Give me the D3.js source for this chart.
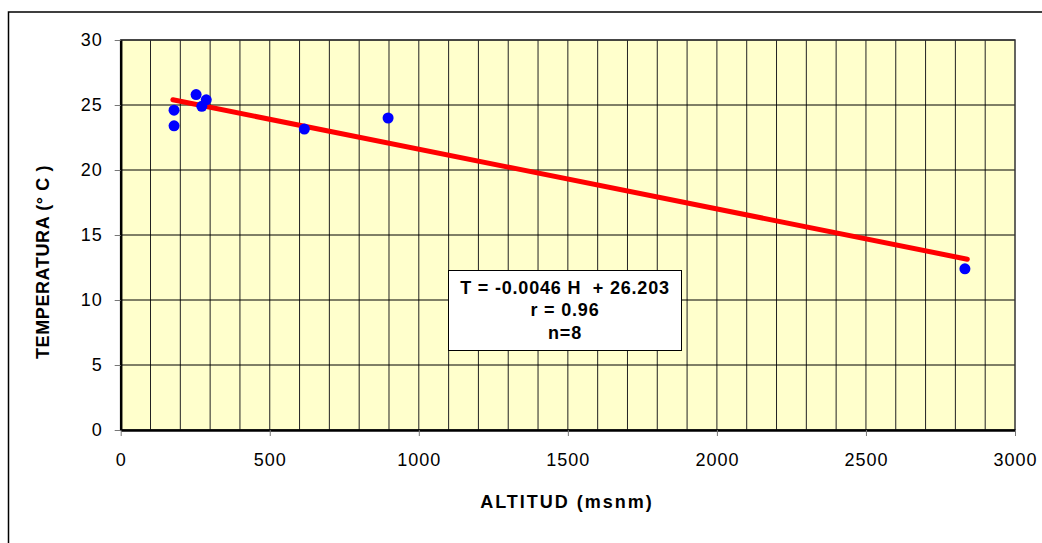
<!DOCTYPE html>
<html>
<head>
<meta charset="utf-8">
<script src="https://cdn.jsdelivr.net/npm/d3@7"></script>
<style>
  body { margin: 0; background: #fff; }
  svg { display: block; font-family: "Liberation Sans", Arial, sans-serif; }
</style>
</head>
<body>
<svg id="chart" width="1042" height="543"></svg>
<script>
// data
const altitud = [179, 179, 253, 272, 287, 616, 897, 2832]
const temperatura = [24.6, 23.4, 25.8, 24.9, 25.4, 23.15, 24.0, 12.4]
const xTicks = [0, 500, 1000, 1500, 2000, 2500, 3000]
const yTicks = [0, 5, 10, 15, 20, 25, 30]
const slope = -0.0046
const intercept = 26.203
const boxLines = ['T = -0.0046 H  + 26.203', 'r = 0.96', 'n=8']

const svg = d3.select('#chart')
const plotLeft = 120.7, plotRight = 1015, plotTop = 40, plotBottom = 430

const x = d3.scaleLinear().domain([0, 3000]).range([plotLeft, plotRight])
const y = d3.scaleLinear().domain([0, 30]).range([plotBottom, plotTop])

// outer frame (only top and left visible)
svg.append('path')
  .attr('d', 'M8.5,1042 L8.5,12 L1042,12')
  .attr('fill', 'none')
  .attr('stroke', '#000')
  .attr('stroke-width', 1.5)

// plot area
svg.append('rect')
  .attr('x', plotLeft).attr('y', plotTop)
  .attr('width', plotRight - plotLeft).attr('height', plotBottom - plotTop)
  .attr('fill', '#ffffcc')

// grid
svg.append('g').selectAll('line')
  .data(d3.range(100, 3000, 100))
  .join('line')
  .attr('x1', d => x(d)).attr('x2', d => x(d))
  .attr('y1', plotTop).attr('y2', plotBottom)
  .attr('stroke', '#222').attr('stroke-width', 1)
svg.append('g').selectAll('line')
  .data(yTicks.slice(1))
  .join('line')
  .attr('x1', plotLeft).attr('x2', plotRight)
  .attr('y1', d => y(d)).attr('y2', d => y(d))
  .attr('stroke', '#000').attr('stroke-width', 1)

// plot border
svg.append('rect')
  .attr('x', plotLeft).attr('y', plotTop)
  .attr('width', plotRight - plotLeft).attr('height', plotBottom - plotTop)
  .attr('fill', 'none')
  .attr('stroke', '#333').attr('stroke-width', 1.5)

// axes
const xAxis = svg.append('g')
  .attr('transform', `translate(0,${plotBottom})`)
  .call(d3.axisBottom(x).tickValues(xTicks).tickFormat(d3.format('d'))
    .tickSize(6).tickSizeOuter(0).tickPadding(17))
const yAxis = svg.append('g')
  .attr('transform', `translate(${plotLeft},0)`)
  .call(d3.axisLeft(y).tickValues(yTicks).tickFormat(d3.format('d'))
    .tickSize(6).tickSizeOuter(0).tickPadding(12))

for (const ax of [xAxis, yAxis]) {
  ax.select('.domain').attr('stroke', '#000').attr('stroke-width', 2.5)
  ax.selectAll('.tick line').attr('stroke', '#777').attr('stroke-width', 1)
  ax.selectAll('.tick text')
    .attr('fill', '#000')
    .attr('font-size', '18px')
    .attr('font-family', '"Liberation Sans", Arial, sans-serif')
    .attr('letter-spacing', '1px')
}

// regression line
const ext = d3.extent(altitud)
const lineData = [ext[0] - 4, ext[1] + 8].map(h => [h, slope * h + intercept])
svg.append('path')
  .datum(lineData)
  .attr('d', d3.line().x(d => x(d[0])).y(d => y(d[1])))
  .attr('fill', 'none')
  .attr('stroke', '#ff0000')
  .attr('stroke-width', 5)
  .attr('stroke-linecap', 'round')

// points
svg.append('g').selectAll('circle')
  .data(altitud.map((a, i) => [a, temperatura[i]]))
  .join('circle')
  .attr('cx', d => x(d[0]))
  .attr('cy', d => y(d[1]))
  .attr('r', 5.5)
  .attr('fill', '#0000ff')

// equation box
svg.append('rect')
  .attr('x', 448.5).attr('y', 270.5)
  .attr('width', 233).attr('height', 80)
  .attr('fill', '#fff')
  .attr('stroke', '#000').attr('stroke-width', 1)
svg.append('g').selectAll('text')
  .data(boxLines)
  .join('text')
  .attr('x', 565)
  .attr('y', (d, i) => [293.5, 316, 338.5][i])
  .attr('text-anchor', 'middle')
  .attr('font-size', '18px')
  .attr('font-weight', 'bold')
  .attr('letter-spacing', '0.8px')
  .style('white-space', 'pre')
  .text(d => d)

// axis titles
svg.append('text')
  .attr('x', 567).attr('y', 507.5)
  .attr('text-anchor', 'middle')
  .attr('font-size', '18px')
  .attr('font-weight', 'bold')
  .attr('letter-spacing', '2px')
  .text('ALTITUD (msnm)')
svg.append('text')
  .attr('transform', 'translate(49,262) rotate(-90)')
  .attr('text-anchor', 'middle')
  .attr('font-size', '18px')
  .attr('font-weight', 'bold')
  .attr('letter-spacing', '0.6px')
  .style('white-space', 'pre')
  .text('TEMPERATURA (° C )')
</script>
</body>
</html>
